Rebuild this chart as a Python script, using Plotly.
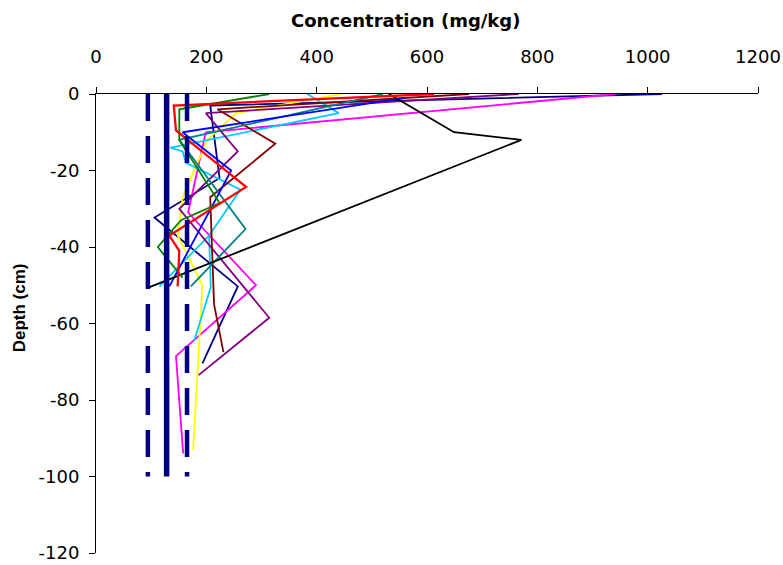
import plotly.graph_objects as go

# ---- data (concentration in mg/kg, depth in cm) ----
black_conc = [531, 649, 771, 97]
black_depth = [0, -10, -12, -50.5]

magenta_conc = [941, 199, 167, 290, 145, 158]
magenta_depth = [0, -10, -31, -50, -68.5, -94]

purple_conc = [766, 199, 257, 151, 314, 186]
purple_depth = [0, -5, -15, -30, -58.5, -73.5]

maroon_conc = [676, 220, 325, 207, 214, 231]
maroon_depth = [0, -4, -13, -27, -55, -67.5]

red_conc = [613, 141, 145, 272, 133, 151, 148]
red_depth = [0, -3, -9.5, -24.3, -37, -41, -50.3]

green_conc = [314, 151, 151, 224, 154, 112, 157]
green_depth = [0, -4, -12, -28.5, -33, -40, -48]

yellow_conc = [444, 254, 202, 157, 148, 193, 176]
yellow_depth = [0, -5, -12, -27, -37, -50, -93]

navy_conc = [1026, 207, 224, 106, 257, 193]
navy_depth = [0, -3, -22, -32.3, -50.3, -70.4]

blue_conc = [560, 157, 245, 133]
blue_depth = [-1, -10, -20, -50.3]

teal_conc = [520, 151, 271, 172]
teal_depth = [0, -12, -35.3, -50.3]

cyan_conc = [383, 440, 135, 157, 163, 262, 205, 208, 178]
cyan_depth = [0, -5, -14, -15, -18, -25, -37, -50.5, -64.5]

cyan2_conc = [205, 115]
cyan2_depth = [-37, -50.3]

# reference levels (vertical lines)
ref_conc = [94, 128, 165]
ref_top = 0
ref_bottom = -100

x_ticks = [0, 200, 400, 600, 800, 1000, 1200]
y_ticks = [0, -20, -40, -60, -80, -100, -120]
y_tick_labels = ["0", "-20", "-40", "-60", "-80", "-100", "-120"]

x_title = "Concentration (mg/kg)"
y_title = "Depth (cm)"

series = [
    (navy_conc, navy_depth, "#000080", 1.8),
    (magenta_conc, magenta_depth, "#FF00FF", 1.8),
    (yellow_conc, yellow_depth, "#FFFF00", 1.8),
    (cyan_conc, cyan_depth, "#00CCFF", 1.8),
    (cyan2_conc, cyan2_depth, "#00CCFF", 1.8),
    (purple_conc, purple_depth, "#800080", 1.8),
    (maroon_conc, maroon_depth, "#800000", 1.8),
    (teal_conc, teal_depth, "#008080", 1.8),
    (blue_conc, blue_depth, "#0000FF", 1.8),
    (black_conc, black_depth, "#000000", 1.8),
    (green_conc, green_depth, "#008000", 1.8),
    (red_conc, red_depth, "#FF0000", 2.3),
]

fig = go.Figure()
for xs, ys, col, w in series:
    fig.add_trace(go.Scatter(x=xs, y=ys, mode="lines",
                             line=dict(color=col, width=w),
                             showlegend=False, hoverinfo="skip"))

ref_styles = [("27px,15px", 4.5), ("solid", 5.5), ("27px,15px", 4.5)]
for v, (dash, w) in zip(ref_conc, ref_styles):
    fig.add_trace(go.Scatter(x=[v, v], y=[ref_top, ref_bottom], mode="lines",
                             line=dict(color="#000080", width=w, dash=dash),
                             showlegend=False, hoverinfo="skip"))

tick_font = dict(family="DejaVu Sans, Liberation Sans, sans-serif", size=18, color="black")
fig.update_layout(
    width=783, height=565,
    margin=dict(l=96, r=25, t=94, b=12, autoexpand=False),
    paper_bgcolor="white", plot_bgcolor="white",
    font=tick_font,
    xaxis=dict(
        range=[0, 1200], side="top", tickvals=x_ticks,
        ticks="outside", ticklen=6, tickcolor="black", tickwidth=1,
        showline=True, linecolor="black", linewidth=1,
        showgrid=False, zeroline=False, ticklabelstandoff=17,
        tickfont=tick_font, automargin=False,
    ),
    yaxis=dict(
        range=[-120, 0], tickvals=y_ticks, ticktext=y_tick_labels,
        ticks="outside", ticklen=6, tickcolor="black", tickwidth=1,
        showline=True, linecolor="black", linewidth=1,
        showgrid=False, zeroline=False, ticklabelstandoff=6,
        tickfont=tick_font, automargin=False,
    ),
    annotations=[
        dict(text="<b>" + x_title + "</b>", xref="paper", yref="paper",
             x=0.468, y=1.160, xanchor="center", yanchor="middle", showarrow=False,
             font=dict(family="DejaVu Sans, Liberation Sans, sans-serif", size=18, color="black")),
        dict(text="<b>" + y_title + "</b>", xref="paper", yref="paper",
             x=-0.115, y=0.535, xanchor="center", yanchor="middle", showarrow=False,
             textangle=-90,
             font=dict(family="Liberation Sans, Arial, sans-serif", size=17, color="black")),
    ],
)

fig.write_html("out.html", config={"displayModeBar": False},
               post_script="document.body.style.margin='0';")
